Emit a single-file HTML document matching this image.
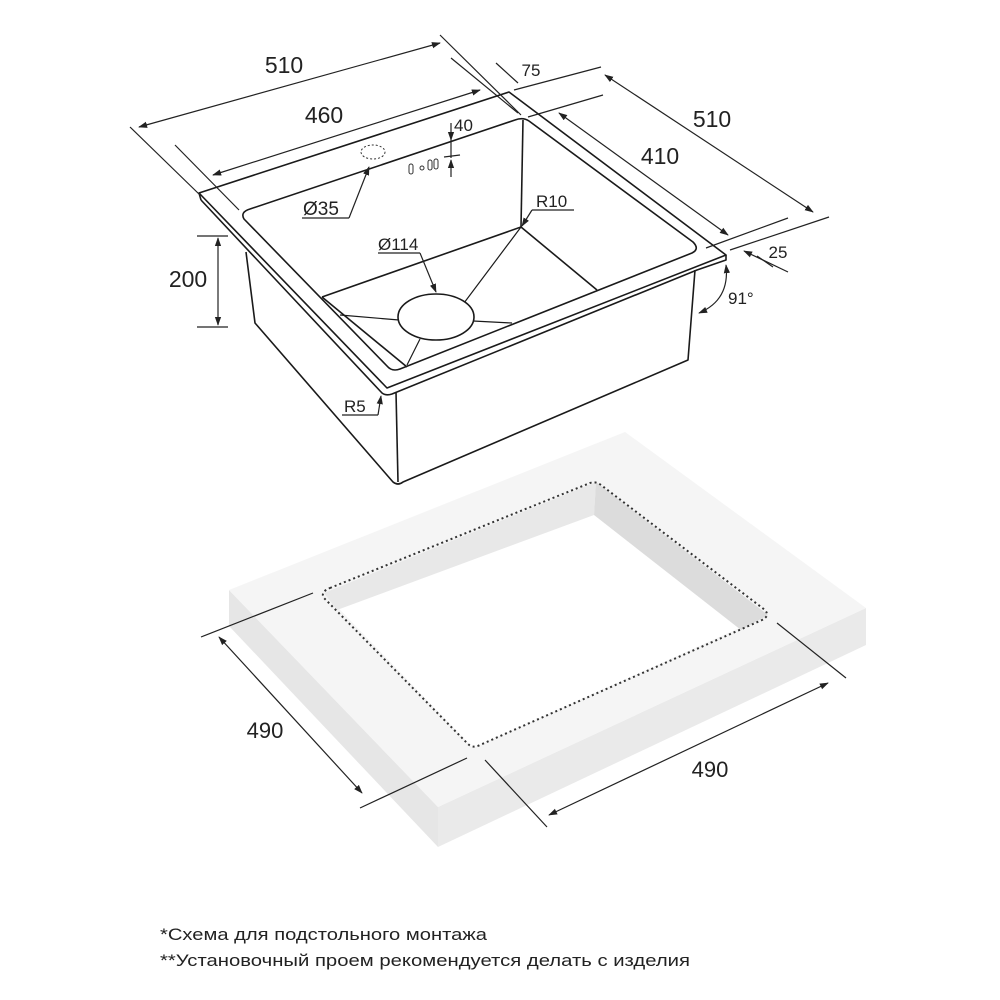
<!DOCTYPE html>
<html><head><meta charset="utf-8"><style>
html,body{margin:0;padding:0;background:#fff;}
svg{display:block;}
text{font-family:"Liberation Sans","DejaVu Sans",sans-serif;fill:#222;}
</style></head><body>
<svg width="1000" height="1000" viewBox="0 0 1000 1000" xmlns="http://www.w3.org/2000/svg">
<defs>
<marker id="a" viewBox="0 0 10 10" refX="9" refY="5" markerWidth="9" markerHeight="9" orient="auto-start-reverse" markerUnits="userSpaceOnUse"><path d="M0,1.5 L10,5 L0,8.5 z" fill="#222"/></marker>
</defs>

<!-- Countertop -->
<polygon points="229,590 229,626 438,847 438,807" fill="#e6e6e6"/>
<polygon points="438,807 438,847 866,645 866,608" fill="#eaeaea"/>
<polygon points="229,590 625,432 866,608 438,807" fill="#f5f5f5"/>
<polygon points="324,593 596,482 768,615 473,748" fill="#fff"/>
<polygon points="324,593 596,482 594,515 337,610" fill="#e8e8e8"/>
<polygon points="596,482 768,615 741,630 594,515" fill="#dcdcdc"/>
<path d="M330,588 L590,483 Q596,481 601,485 L765,610 Q770,616 762,620 L480,745 Q472,749 467,743 L324,598 Q320,592 330,588 Z" fill="none" stroke="#333" stroke-width="2" stroke-dasharray="2,3"/>
<!-- 490 dims -->
<g stroke="#222" stroke-width="1.2" fill="none">
<line x1="201" y1="637" x2="313" y2="593"/>
<line x1="360" y1="808" x2="467" y2="758"/>
<line x1="219" y1="637" x2="362" y2="793" marker-start="url(#a)" marker-end="url(#a)"/>
<line x1="485" y1="760" x2="547" y2="827"/>
<line x1="777" y1="623" x2="846" y2="678"/>
<line x1="549" y1="815" x2="828" y2="683" marker-start="url(#a)" marker-end="url(#a)"/>
</g>
<text x="265" y="738" font-size="22" text-anchor="middle">490</text>
<text x="710" y="777" font-size="22" text-anchor="middle">490</text>

<!-- Sink body -->
<g stroke="#1a1a1a" stroke-width="1.6" fill="none" stroke-linejoin="round">
<path d="M246,252 L255,323 L393,482 Q398,486 403,482 L688,360 L695,270"/>
<line x1="396" y1="392" x2="398" y2="482"/>
<path d="M199,193 L509,92 L726,255 L387,388 Z" fill="#fff"/>
<path d="M201,200 L382,393 Q386,396 392,394 L697,270 L726,260 L726,255"/>
<path d="M199,193 L201,200"/>
<path d="M250,209 L515,120 Q523,117 529,121 L693,242 Q700,249 692,253 L400,369 Q392,372 387,366 L244,219 Q240,212 250,209 Z" fill="#fff"/>
<line x1="523" y1="120" x2="521" y2="227"/>
<line x1="521" y1="227" x2="322" y2="297"/>
<line x1="521" y1="227" x2="597" y2="290"/>
<line x1="322" y1="297" x2="407" y2="367"/>
</g>
<g stroke="#1a1a1a" stroke-width="1.2" fill="none">
<line x1="521" y1="227" x2="464" y2="303"/>
<line x1="340" y1="315" x2="399" y2="320"/>
<line x1="473" y1="321" x2="512" y2="323"/>
<line x1="420" y1="339" x2="407" y2="365"/>
</g>
<ellipse cx="436" cy="317" rx="38" ry="23" fill="#fff" stroke="#1a1a1a" stroke-width="1.6"/>
<ellipse cx="373" cy="152" rx="12" ry="7" fill="none" stroke="#333" stroke-width="1" stroke-dasharray="2,2"/>
<g fill="none" stroke="#333" stroke-width="1">
<rect x="409" y="164" width="4" height="10" rx="2"/>
<circle cx="422" cy="168" r="2"/>
<rect x="428" y="160" width="4" height="10" rx="2"/>
<rect x="434" y="159" width="4" height="10" rx="2"/>
</g>

<g stroke="#222" stroke-width="1.2" fill="none">
<line x1="130" y1="127" x2="200" y2="195"/>
<line x1="440" y1="35" x2="521" y2="115"/>
<line x1="139" y1="127" x2="440" y2="43" marker-start="url(#a)" marker-end="url(#a)"/>
<line x1="175" y1="145" x2="239" y2="210"/>
<line x1="451" y1="58" x2="518" y2="113"/>
<line x1="213" y1="175" x2="480" y2="90" marker-start="url(#a)" marker-end="url(#a)"/>
<line x1="496" y1="63" x2="518" y2="83" />
<line x1="601" y1="67" x2="514" y2="90"/>
<line x1="603" y1="95" x2="528" y2="117"/>
<line x1="605" y1="75" x2="813" y2="212" marker-start="url(#a)" marker-end="url(#a)"/>
<line x1="559" y1="113" x2="728" y2="235" marker-start="url(#a)" marker-end="url(#a)"/>
<line x1="788" y1="218" x2="706" y2="248"/>
<line x1="829" y1="217" x2="730" y2="250"/>
<line x1="757" y1="256" x2="773" y2="267"/>
<line x1="788" y1="272" x2="744" y2="251" marker-end="url(#a)"/>
<line x1="451" y1="123" x2="451" y2="140" marker-end="url(#a)"/>
<line x1="451" y1="177" x2="451" y2="160" marker-end="url(#a)"/>
<line x1="451" y1="140" x2="451" y2="158"/>
<line x1="444" y1="157" x2="460" y2="155"/>
<line x1="302" y1="218" x2="349" y2="218"/>
<line x1="349" y1="218" x2="369" y2="167" marker-end="url(#a)"/>
<line x1="532" y1="210" x2="574" y2="210"/>
<line x1="532" y1="210" x2="522" y2="226" marker-end="url(#a)"/>
<line x1="378" y1="253" x2="420" y2="253"/>
<line x1="420" y1="253" x2="436" y2="292" marker-end="url(#a)"/>
<line x1="197" y1="236" x2="228" y2="236"/>
<line x1="197" y1="327" x2="228" y2="327"/>
<line x1="218" y1="238" x2="218" y2="325" marker-start="url(#a)" marker-end="url(#a)"/>
<path d="M726,265 Q730,300 699,313" marker-start="url(#a)" marker-end="url(#a)"/>
<line x1="342" y1="415" x2="378" y2="415"/>
<line x1="378" y1="415" x2="381" y2="396" marker-end="url(#a)"/>
</g>

<text x="284" y="73" font-size="23" text-anchor="middle">510</text>
<text x="324" y="123" font-size="23" text-anchor="middle">460</text>
<text x="531" y="76" font-size="17" text-anchor="middle">75</text>
<text x="712" y="127" font-size="23" text-anchor="middle">510</text>
<text x="660" y="164" font-size="23" text-anchor="middle">410</text>
<text x="778" y="258" font-size="17" text-anchor="middle">25</text>
<text x="454" y="131" font-size="17">40</text>
<text x="303" y="215" font-size="19">Ø35</text>
<text x="536" y="207" font-size="17">R10</text>
<text x="378" y="250" font-size="17">Ø114</text>
<text x="188" y="287" font-size="23" text-anchor="middle">200</text>
<text x="728" y="304" font-size="17">91°</text>
<text x="344" y="412" font-size="17">R5</text>

<text x="160" y="940" font-size="17" textLength="327" lengthAdjust="spacingAndGlyphs">*Схема для подстольного монтажа</text>
<text x="160" y="966" font-size="17" textLength="530" lengthAdjust="spacingAndGlyphs">**Установочный проем рекомендуется делать с изделия</text>
</svg>
</body></html>
